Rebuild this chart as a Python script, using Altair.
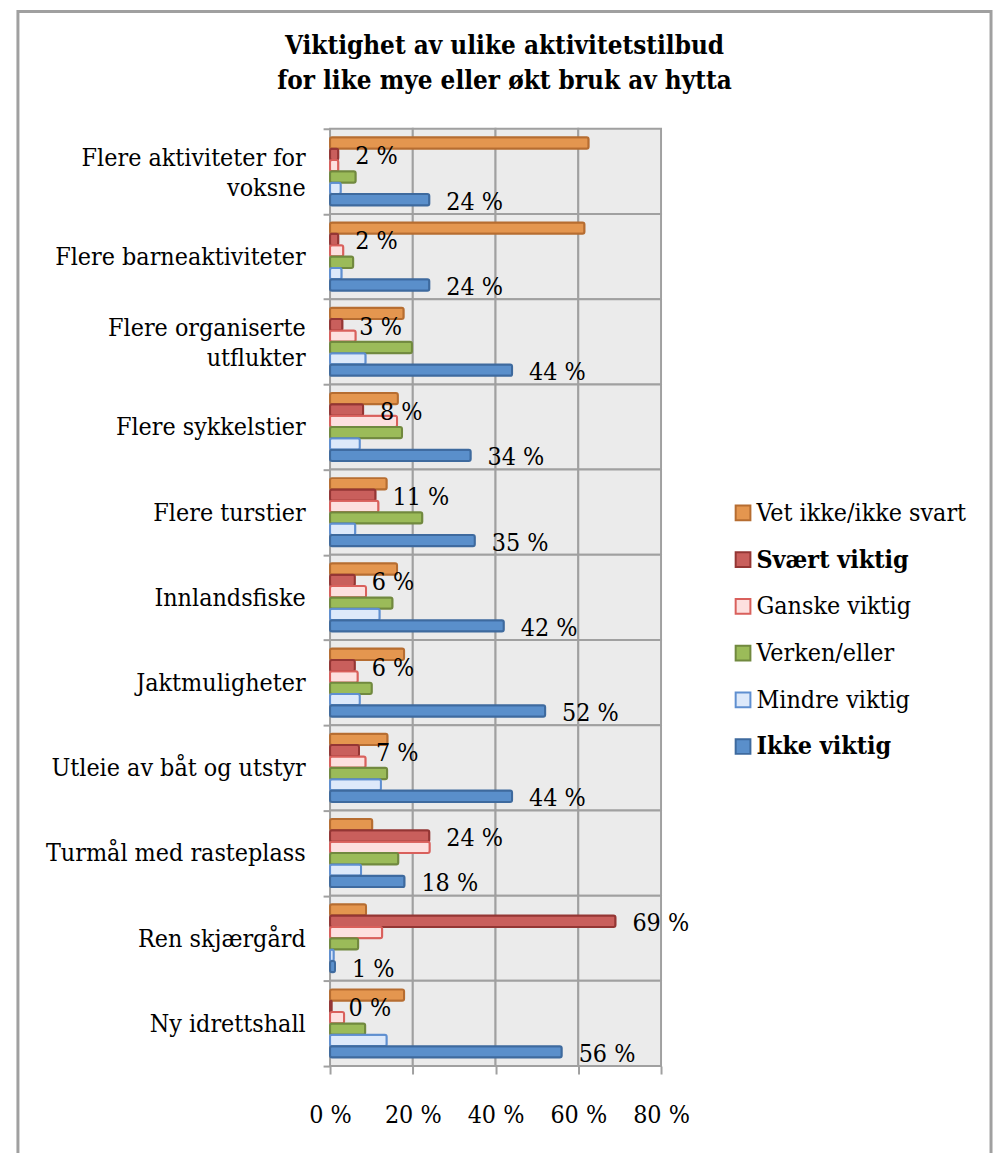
import altair as alt
import pandas as pd

# ---------------- data ----------------
categories = [
    "Flere aktiviteter for\nvoksne",
    "Flere barneaktiviteter",
    "Flere organiserte\nutflukter",
    "Flere sykkelstier",
    "Flere turstier",
    "Innlandsfiske",
    "Jaktmuligheter",
    "Utleie av båt og utstyr",
    "Turmål med rasteplass",
    "Ren skjærgård",
    "Ny idrettshall",
]
series = [
    "Vet ikke/ikke svart",
    "Svært viktig",
    "Ganske viktig",
    "Verken/eller",
    "Mindre viktig",
    "Ikke viktig",
]
vet_ikke = [62.5, 61.5, 17.8, 16.4, 13.7, 16.2, 17.9, 13.9, 10.2, 8.7, 17.9]
svaert_viktig = [2, 2, 3, 8, 11, 6, 6, 7, 24, 69, 0.4]
ganske_viktig = [2.0, 3.2, 6.2, 16.2, 11.7, 8.7, 6.7, 8.6, 24.1, 12.6, 3.4]
verken_eller = [6.2, 5.6, 19.8, 17.4, 22.3, 15.1, 10.1, 13.8, 16.5, 6.8, 8.5]
mindre_viktig = [2.6, 2.8, 8.6, 7.2, 6.1, 12.0, 7.2, 12.3, 7.5, 0.9, 13.7]
ikke_viktig = [24, 24, 44, 34, 35, 42, 52, 44, 18, 1.2, 56]
labelled_series = ["Svært viktig", "Ikke viktig"]
x_ticks = [0, 20, 40, 60, 80]

fill_colors = ["#E4964F", "#C95F5C", "#FDE0DF", "#9BBB59", "#DDE9FA", "#5A8FCB"]
stroke_colors = ["#B66D31", "#943634", "#D9605C", "#71893F", "#5F8FD0", "#3E6A9E"]

all_values = [vet_ikke, svaert_viktig, ganske_viktig, verken_eller, mindre_viktig, ikke_viktig]
rows = []
for s, vals in zip(series, all_values):
    for c, v in zip(categories, vals):
        rows.append({"cat": c, "series": s, "value": v, "label": f"{round(v)} %"})
df = pd.DataFrame(rows)

cells = pd.DataFrame(
    [{"cat": c, "x0": a, "x1": b} for c in categories for a, b in zip(x_ticks[:-1], x_ticks[1:])]
)

FONT = "DejaVu Serif Condensed"
GRID = "#A0A0A0"

x_scale = alt.Scale(domain=[0, 80], range=[314, 647], nice=False, zero=True)
y_scale = alt.Scale(domain=categories, range=[118, 1061], paddingInner=0, paddingOuter=0)
off_scale = alt.Scale(domain=series, paddingInner=0, paddingOuter=0.75)

y_axis = alt.Axis(
    title=None, offset=-314, domain=False, grid=False, tickBand="extent",
    tickSize=7, tickWidth=2, tickColor=GRID, labelPadding=18, labelFont=FONT,
    labelFontSize=25, labelColor="black", labelLimit=400, labelLineHeight=30,
    labelExpr="split(datum.label, '\\n')",
    labelOffset={"condition": {"test": "indexof(datum.label, '\\n') >= 0", "value": -14}, "value": 0},
)
x_axis = alt.Axis(
    title=None, offset=-89, domain=False, grid=False, values=x_ticks,
    tickSize=8, tickWidth=2, tickColor=GRID, labelPadding=29, labelFont=FONT,
    labelFontSize=25, labelColor="black", labelOverlap=False, labelFlush=False,
    labelExpr="datum.value + ' %'",
)
legend = alt.Legend(
    title=None, orient="none", legendX=717, legendY=492, symbolType="square",
    symbolSize=220, symbolStrokeWidth=2, labelFont=FONT, labelFontSize=25,
    labelColor="black", labelLimit=400, labelOffset=1, rowPadding=21, padding=0,
    labelFontWeight={"expr": "datum.label == 'Svært viktig' || datum.label == 'Ikke viktig' ? 'bold' : 'normal'"},
)

background = alt.Chart(cells).mark_rect(fill="#EBEBEB", stroke=GRID, strokeWidth=2).encode(
    x=alt.X("x0:Q", scale=x_scale, axis=x_axis),
    x2="x1:Q",
    y=alt.Y("cat:N", scale=y_scale, axis=y_axis),
)

bars = alt.Chart(df).mark_bar(strokeWidth=2, cornerRadius=2).encode(
    x=alt.X("value:Q", scale=x_scale, axis=x_axis),
    y=alt.Y("cat:N", scale=y_scale, axis=y_axis),
    yOffset=alt.YOffset("series:N", scale=off_scale),
    fill=alt.Fill("series:N", scale=alt.Scale(domain=series, range=fill_colors), legend=legend),
    stroke=alt.Stroke("series:N", scale=alt.Scale(domain=series, range=stroke_colors), legend=legend),
)

labels = alt.Chart(df).transform_filter(
    alt.FieldOneOfPredicate(field="series", oneOf=labelled_series)
).mark_text(align="left", baseline="middle", dx=17, dy=2, font=FONT, fontSize=25, color="black").encode(
    x=alt.X("value:Q", scale=x_scale, axis=x_axis),
    y=alt.Y("cat:N", scale=y_scale, axis=y_axis),
    yOffset=alt.YOffset("series:N", scale=off_scale),
    text="label:N",
)

chart = alt.layer(background, bars, labels).properties(
    width=979,
    height=1150,
    autosize=alt.AutoSizeParams(type="none"),
    padding={"left": 10, "top": 0, "right": 4, "bottom": 0},
    title=alt.TitleParams(
        ["Viktighet av ulike aktivitetstilbud", "for like mye eller økt bruk av hytta"],
        font=FONT, fontSize=26, fontWeight="bold", color="black", anchor="middle",
        frame="group", offset=-95, lineHeight=35,
    ),
).configure_view(stroke="#A0A0A0", strokeWidth=3, fill="white")

chart.save("out.html", embed_options={"renderer": "svg", "actions": False})
